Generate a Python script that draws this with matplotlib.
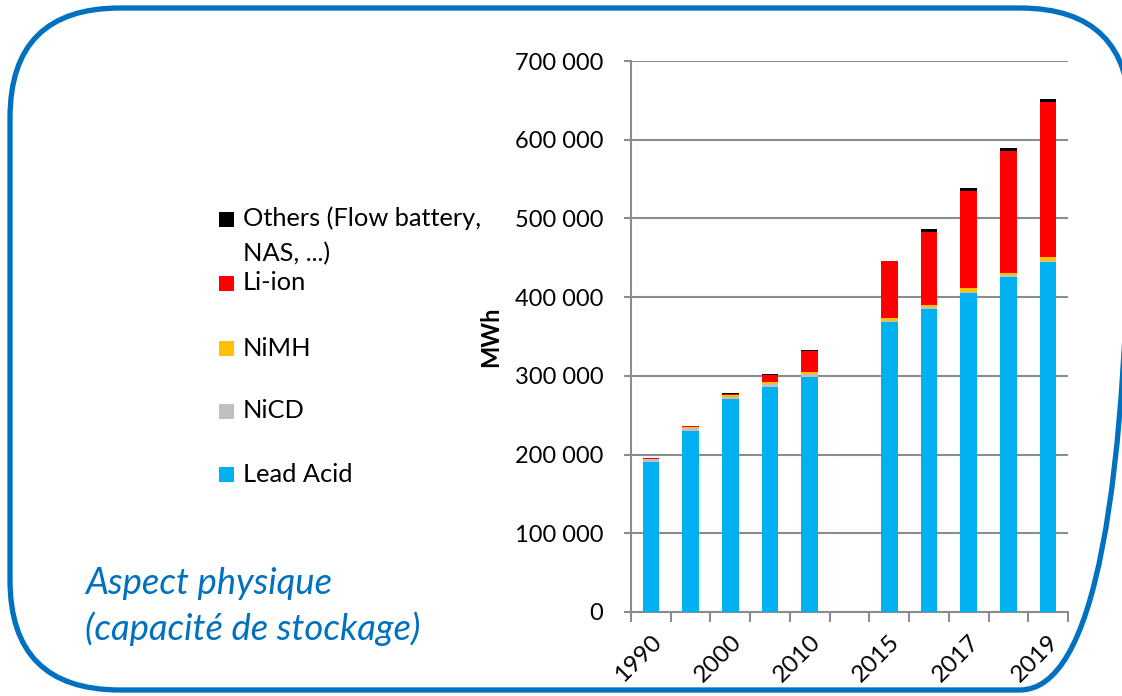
import matplotlib
matplotlib.use("Agg")
import matplotlib.pyplot as plt
import numpy as np
from matplotlib.patches import FancyBboxPatch, Rectangle
from matplotlib.ticker import FuncFormatter

plt.rcParams['font.family'] = ['Lato', 'DejaVu Sans']

# ---- data ----
categories = ['1990', '1995', '2000', '2005', '2010', '', '2015', '2016', '2017', '2018', '2019']
tick_labels = ['1990', '', '2000', '', '2010', '', '2015', '', '2017', '', '2019']
lead_acid = [190000, 230000, 270000, 286000, 299000, 0, 368500, 385500, 405500, 426000, 445000]
nicd = [4000, 4000, 3500, 4000, 3000, 0, 1500, 1500, 1500, 1500, 1500]
nimh = [800, 1500, 2000, 2000, 3500, 0, 3500, 3500, 4000, 3500, 4500]
li_ion = [300, 600, 2000, 9000, 25500, 0, 72000, 92500, 124000, 154500, 197500]
others = [200, 300, 300, 800, 1500, 0, 1000, 3000, 3500, 3500, 3500]

series_names = ['Lead Acid', 'NiCD', 'NiMH', 'Li-ion', 'Others (Flow battery,\nNAS, ...)']
series_values = [lead_acid, nicd, nimh, li_ion, others]
series_colors = ['#00B0F0', '#C0C0C0', '#FFC000', '#FF0000', '#000000']
y_ticks = [0, 100000, 200000, 300000, 400000, 500000, 600000, 700000]

W, H = 1122, 696
fig = plt.figure(figsize=(W / 100, H / 100), dpi=100)

# background axes in pixel coordinates
bg = fig.add_axes([0, 0, 1, 1])
bg.set_xlim(0, W)
bg.set_ylim(H, 0)
bg.axis('off')
border = FancyBboxPatch((10, 8), 1120, 682, boxstyle="round,pad=0,rounding_size=110",
                        fill=False, edgecolor='#0070C0', linewidth=3.8)
bg.add_patch(border)

# main chart axes
ax = fig.add_axes([631 / W, 1 - 612 / H, (1068 - 631) / W, (612 - 61) / H])
ax.set_facecolor('none')
x = np.arange(len(categories))
bottom = np.zeros(len(categories))
for vals, col in zip(series_values, series_colors):
    v = np.array(vals, dtype=float)
    ax.bar(x, v, width=0.42, bottom=bottom, color=col, linewidth=0, zorder=3)
    bottom += v

ax.set_xlim(-0.5, len(categories) - 0.5)
ax.set_ylim(0, 700000)
ax.set_yticks(y_ticks)
ax.yaxis.set_major_formatter(FuncFormatter(lambda v, p: f"{int(v):,}".replace(",", " ")))
grid_col = '#8C8C8C'
ax.grid(axis='y', color=grid_col, linewidth=1.5, zorder=0)
for s in ['top', 'right']:
    ax.spines[s].set_visible(False)
for s in ['left', 'bottom']:
    ax.spines[s].set_color(grid_col)
    ax.spines[s].set_linewidth(1.5)
ax.tick_params(axis='y', length=5, width=1.5, color=grid_col, pad=15, labelsize=17, labelcolor='#000000')

# category boundaries as tick marks, labels at centres
ax.set_xticks(np.arange(len(categories) + 1) - 0.5)
ax.set_xticklabels([])
ax.tick_params(axis='x', which='major', length=7, width=1.5, color=grid_col)
ax.set_xticks(x, minor=True)
ax.set_xticklabels(tick_labels, minor=True, rotation=45, ha='right', va='top',
                   rotation_mode='anchor', fontsize=17.5)
ax.tick_params(axis='x', which='minor', length=0, pad=14)

ax.set_ylabel('MWh', fontsize=17, fontweight='bold', labelpad=9)

# legend (manual, Excel-like layout)
leg_rows = [(219, 4), (283, 3), (348, 2), (411, 1), (474, 0)]
for yc, idx in leg_rows:
    bg.add_patch(Rectangle((219, yc - 7.5), 15, 15, facecolor=series_colors[idx], edgecolor='none'))
    if idx == 4:
        bg.text(243, yc - 13, series_names[idx], fontsize=18.3, va='top', ha='left',
                color='#000000', linespacing=1.62)
    else:
        bg.text(243, yc, series_names[idx], fontsize=18.3, va='center', ha='left', color='#000000')

bg.text(85, 583, 'Aspect physique', fontsize=26.3, style='italic', color='#0070C0', va='center')
bg.text(85, 629, '(capacité de stockage)', fontsize=26.3, style='italic', color='#0070C0', va='center')

fig.savefig('out.png', dpi=100)
